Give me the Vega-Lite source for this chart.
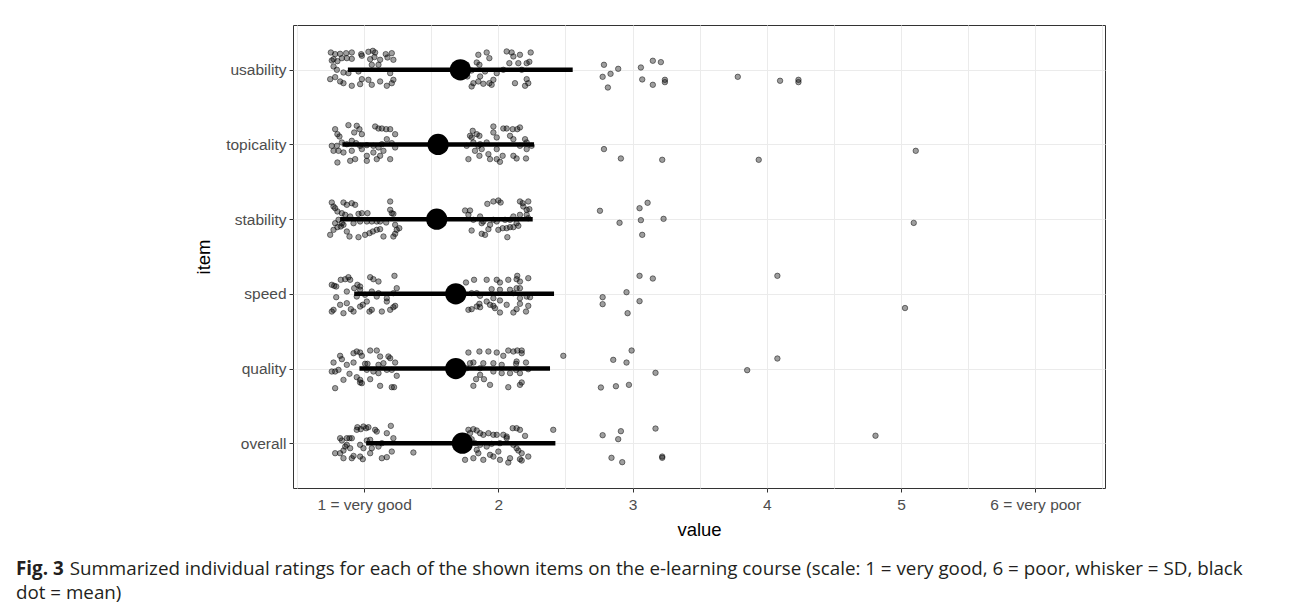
{
"$schema":"https://vega.github.io/schema/vega-lite/v6.json",
"autosize":{"type":"none"},
"padding":{"left":293,"top":25,"right":187,"bottom":121},
"width":812,"height":463,
"background":"#ffffff",
"config":{"view":{"stroke":"#333333","strokeWidth":1},"font":"Liberation Sans"},
"title":{"text":"Fig. 3","subtitle":["\u200b\u00a0\u00a0\u00a0\u00a0\u00a0\u00a0\u00a0\u00a0\u00a0\u00a0\u00a0Summarized individual ratings for each of the shown items on the e-learning course (scale: 1 = very good, 6 = poor, whisker = SD, black","dot = mean)"],"orient":"bottom","anchor":"start","frame":"group","dx":-277,"offset":21,"font":"Open Sans","fontSize":18.8,"fontWeight":"bold","color":"#231f20","subtitleFont":"Open Sans","subtitleFontSize":18.8,"subtitleColor":"#231f20","subtitleLineHeight":24,"subtitlePadding":-18.8},
"datasets":{
"pts":[
{"v":0.752,"y":6.232},{"v":0.784,"y":6.21},{"v":0.821,"y":6.214},{"v":0.866,"y":6.223},{"v":0.908,"y":6.232},{"v":0.978,"y":6.21},{"v":1.032,"y":6.241},{"v":1.065,"y":6.254},{"v":1.082,"y":6.232},{"v":1.161,"y":6.21},{"v":1.206,"y":6.223},{"v":0.759,"y":6.125},{"v":0.772,"y":6.143},{"v":0.801,"y":6.116},{"v":0.834,"y":6.156},{"v":0.871,"y":6.156},{"v":0.908,"y":6.147},{"v":0.983,"y":6.188},{"v":1.045,"y":6.143},{"v":1.077,"y":6.17},{"v":1.119,"y":6.134},{"v":1.174,"y":6.165},{"v":1.218,"y":6.134},{"v":0.797,"y":6.0},{"v":0.846,"y":5.964},{"v":0.883,"y":5.955},{"v":0.958,"y":5.978},{"v":1.057,"y":6.067},{"v":1.107,"y":6.067},{"v":1.194,"y":5.955},{"v":0.747,"y":5.875},{"v":0.784,"y":5.902},{"v":0.821,"y":5.844},{"v":0.846,"y":5.821},{"v":0.908,"y":5.786},{"v":0.97,"y":5.808},{"v":0.983,"y":5.875},{"v":1.032,"y":5.866},{"v":1.057,"y":5.799},{"v":1.119,"y":5.844},{"v":1.169,"y":5.786},{"v":1.206,"y":5.821},{"v":1.218,"y":5.866},{"v":0.772,"y":6.045},
{"v":1.851,"y":6.201},{"v":1.913,"y":6.232},{"v":1.933,"y":6.156},{"v":1.839,"y":6.098},{"v":1.859,"y":6.067},{"v":1.988,"y":5.955},{"v":2.062,"y":6.246},{"v":2.099,"y":6.232},{"v":2.161,"y":6.201},{"v":2.241,"y":6.232},{"v":2.082,"y":6.089},{"v":2.149,"y":6.089},{"v":2.211,"y":6.089},{"v":2.231,"y":6.107},{"v":1.801,"y":5.777},{"v":1.814,"y":5.821},{"v":1.851,"y":5.844},{"v":1.888,"y":5.813},{"v":1.933,"y":5.821},{"v":1.95,"y":5.799},{"v":1.864,"y":5.911},{"v":2.124,"y":5.821},{"v":2.199,"y":5.786},{"v":2.211,"y":5.875},{"v":2.223,"y":5.821},{"v":1.963,"y":5.866},{"v":2.037,"y":6.0},{"v":1.801,"y":5.991},{"v":1.769,"y":5.911},{"v":2.112,"y":6.179},{"v":2.174,"y":6.0},{"v":1.901,"y":5.978},{"v":1.764,"y":6.067},
{"v":2.787,"y":6.067},{"v":2.893,"y":6.013},{"v":2.777,"y":5.906},{"v":2.836,"y":5.946},{"v":2.816,"y":5.763},{"v":3.062,"y":6.031},{"v":3.151,"y":6.121},{"v":3.211,"y":6.103},{"v":3.072,"y":5.871},{"v":3.151,"y":5.799},{"v":3.241,"y":5.866},{"v":3.241,"y":5.835},{"v":3.784,"y":5.906},{"v":4.099,"y":5.853},{"v":4.236,"y":5.866},{"v":4.236,"y":5.835},
{"v":0.784,"y":5.205},{"v":0.801,"y":5.138},{"v":0.816,"y":5.107},{"v":0.883,"y":5.259},{"v":0.945,"y":5.25},{"v":0.965,"y":5.205},{"v":0.983,"y":5.138},{"v":0.926,"y":5.161},{"v":1.082,"y":5.241},{"v":1.107,"y":5.214},{"v":1.132,"y":5.214},{"v":1.164,"y":5.205},{"v":1.194,"y":5.205},{"v":1.231,"y":5.138},{"v":0.797,"y":4.982},{"v":0.834,"y":5.027},{"v":0.871,"y":5.004},{"v":0.908,"y":5.049},{"v":0.94,"y":5.018},{"v":0.97,"y":4.982},{"v":1.02,"y":4.991},{"v":1.069,"y":4.982},{"v":1.107,"y":4.96},{"v":1.132,"y":5.004},{"v":1.169,"y":5.071},{"v":1.206,"y":5.018},{"v":0.772,"y":4.915},{"v":0.809,"y":4.915},{"v":0.846,"y":4.893},{"v":0.896,"y":4.781},{"v":0.933,"y":4.804},{"v":1.02,"y":4.848},{"v":1.02,"y":4.781},{"v":1.094,"y":4.804},{"v":1.119,"y":4.848},{"v":1.194,"y":4.804},{"v":0.801,"y":4.759},{"v":0.983,"y":4.938},{"v":1.069,"y":4.893},{"v":1.144,"y":4.915},{"v":0.908,"y":4.915},{"v":1.231,"y":4.96},{"v":0.759,"y":4.982},
{"v":1.809,"y":5.183},{"v":1.839,"y":5.138},{"v":1.859,"y":5.116},{"v":1.963,"y":5.241},{"v":2.037,"y":5.214},{"v":2.062,"y":5.214},{"v":2.107,"y":5.205},{"v":2.141,"y":5.205},{"v":2.161,"y":5.228},{"v":1.864,"y":5.004},{"v":1.876,"y":4.938},{"v":1.988,"y":5.094},{"v":1.814,"y":5.027},{"v":1.801,"y":5.094},{"v":1.789,"y":5.116},{"v":1.988,"y":4.938},{"v":2.087,"y":5.116},{"v":2.112,"y":5.071},{"v":2.161,"y":4.982},{"v":2.211,"y":5.027},{"v":2.248,"y":4.982},{"v":2.211,"y":4.938},{"v":1.777,"y":4.804},{"v":1.859,"y":4.848},{"v":1.926,"y":4.871},{"v":1.988,"y":4.804},{"v":2.012,"y":4.768},{"v":2.032,"y":4.848},{"v":2.112,"y":4.848},{"v":2.136,"y":4.813},{"v":2.206,"y":4.813},{"v":1.913,"y":5.027},{"v":1.851,"y":4.982},{"v":1.963,"y":5.161},{"v":2.199,"y":5.071},{"v":1.826,"y":4.915},{"v":1.938,"y":4.804},{"v":1.764,"y":4.982},
{"v":2.787,"y":4.938},{"v":2.913,"y":4.813},{"v":3.221,"y":4.795},{"v":3.94,"y":4.795},{"v":5.11,"y":4.915},
{"v":0.759,"y":4.223},{"v":0.772,"y":4.17},{"v":0.784,"y":4.147},{"v":0.801,"y":4.103},{"v":0.846,"y":4.223},{"v":0.871,"y":4.192},{"v":0.908,"y":4.214},{"v":0.933,"y":4.192},{"v":0.834,"y":4.08},{"v":0.859,"y":4.058},{"v":0.896,"y":4.036},{"v":0.958,"y":4.071},{"v":0.983,"y":4.08},{"v":1.119,"y":3.969},{"v":1.164,"y":3.955},{"v":1.194,"y":4.237},{"v":1.206,"y":4.08},{"v":1.218,"y":4.071},{"v":0.747,"y":3.79},{"v":0.772,"y":3.857},{"v":0.801,"y":3.893},{"v":0.826,"y":3.902},{"v":0.846,"y":3.924},{"v":0.871,"y":3.835},{"v":0.891,"y":3.768},{"v":0.958,"y":3.759},{"v":1.007,"y":3.79},{"v":1.04,"y":3.813},{"v":1.065,"y":3.835},{"v":1.094,"y":3.857},{"v":1.119,"y":3.866},{"v":1.144,"y":3.768},{"v":1.218,"y":3.768},{"v":1.231,"y":3.804},{"v":1.243,"y":3.857},{"v":1.262,"y":3.879},{"v":0.784,"y":3.946},{"v":0.809,"y":3.991},{"v":0.834,"y":3.946},{"v":0.921,"y":3.946},{"v":0.97,"y":3.969},{"v":1.02,"y":3.969},{"v":1.057,"y":3.969},{"v":1.094,"y":3.969},{"v":1.231,"y":3.924},{"v":1.194,"y":4.125},{"v":1.025,"y":4.08},
{"v":1.752,"y":4.116},{"v":1.789,"y":4.116},{"v":1.918,"y":4.205},{"v":1.963,"y":4.237},{"v":2.0,"y":4.25},{"v":2.017,"y":4.223},{"v":2.161,"y":4.237},{"v":2.181,"y":4.214},{"v":2.223,"y":4.237},{"v":2.211,"y":4.125},{"v":2.231,"y":4.134},{"v":2.186,"y":4.17},{"v":1.801,"y":3.848},{"v":1.876,"y":3.804},{"v":1.901,"y":3.79},{"v":1.926,"y":3.866},{"v":2.0,"y":3.857},{"v":2.032,"y":3.879},{"v":2.062,"y":3.879},{"v":2.087,"y":3.893},{"v":2.112,"y":3.893},{"v":2.149,"y":3.911},{"v":2.067,"y":3.759},{"v":1.876,"y":3.946},{"v":1.888,"y":3.969},{"v":1.963,"y":3.991},{"v":1.988,"y":3.969},{"v":2.05,"y":3.991},{"v":2.087,"y":3.991},{"v":2.112,"y":4.036},{"v":2.161,"y":4.058},{"v":2.211,"y":4.058},{"v":2.223,"y":4.013},{"v":1.777,"y":4.058},{"v":1.864,"y":4.036},{"v":1.814,"y":3.991},{"v":1.938,"y":3.924},{"v":2.136,"y":3.946},
{"v":2.757,"y":4.112},{"v":2.903,"y":3.951},{"v":3.052,"y":4.147},{"v":3.112,"y":4.219},{"v":3.062,"y":3.987},{"v":3.231,"y":4.004},{"v":3.072,"y":3.79},{"v":5.095,"y":3.95},
{"v":0.759,"y":3.121},{"v":0.777,"y":3.107},{"v":0.792,"y":3.098},{"v":0.826,"y":3.188},{"v":0.859,"y":3.196},{"v":0.883,"y":3.223},{"v":0.896,"y":3.188},{"v":0.926,"y":3.076},{"v":0.95,"y":3.121},{"v":0.97,"y":3.098},{"v":1.045,"y":3.223},{"v":1.069,"y":3.196},{"v":1.107,"y":3.165},{"v":1.226,"y":3.241},{"v":0.792,"y":2.955},{"v":0.871,"y":3.031},{"v":0.97,"y":3.054},{"v":1.007,"y":2.987},{"v":1.057,"y":3.031},{"v":1.107,"y":3.009},{"v":1.169,"y":2.942},{"v":1.218,"y":3.009},{"v":1.243,"y":3.076},{"v":0.759,"y":2.763},{"v":0.772,"y":2.786},{"v":0.846,"y":2.741},{"v":0.901,"y":2.795},{"v":0.921,"y":2.763},{"v":0.97,"y":2.83},{"v":0.99,"y":2.853},{"v":1.04,"y":2.763},{"v":1.057,"y":2.786},{"v":1.132,"y":2.763},{"v":1.194,"y":2.786},{"v":1.218,"y":2.821},{"v":1.231,"y":2.839},{"v":0.871,"y":2.875},{"v":0.821,"y":2.853},{"v":1.02,"y":2.897},{"v":1.169,"y":2.897},{"v":1.094,"y":2.964},{"v":0.945,"y":2.964},
{"v":1.759,"y":3.152},{"v":1.819,"y":3.188},{"v":1.913,"y":3.188},{"v":1.988,"y":3.188},{"v":2.012,"y":3.152},{"v":2.074,"y":3.188},{"v":2.136,"y":3.196},{"v":2.161,"y":3.165},{"v":2.223,"y":3.21},{"v":2.141,"y":3.241},{"v":1.95,"y":3.063},{"v":2.012,"y":3.054},{"v":2.087,"y":3.054},{"v":2.136,"y":3.076},{"v":2.161,"y":3.076},{"v":1.777,"y":2.786},{"v":1.801,"y":2.795},{"v":1.839,"y":2.83},{"v":1.859,"y":2.866},{"v":1.864,"y":2.821},{"v":1.938,"y":2.853},{"v":1.963,"y":2.839},{"v":1.975,"y":2.808},{"v":2.012,"y":2.75},{"v":2.062,"y":2.853},{"v":2.112,"y":2.75},{"v":2.136,"y":2.795},{"v":2.161,"y":2.866},{"v":2.206,"y":2.763},{"v":2.223,"y":2.839},{"v":2.161,"y":2.942},{"v":2.211,"y":2.964},{"v":2.236,"y":2.955},{"v":2.112,"y":3.009},{"v":1.839,"y":3.009},{"v":1.864,"y":2.973},{"v":1.963,"y":2.942},{"v":2.012,"y":2.911},{"v":1.913,"y":2.897},{"v":1.801,"y":3.009},
{"v":3.052,"y":3.241},{"v":3.151,"y":3.205},{"v":2.955,"y":3.022},{"v":2.777,"y":2.955},{"v":2.777,"y":2.862},{"v":3.052,"y":2.902},{"v":2.963,"y":2.741},{"v":4.079,"y":3.241},{"v":5.03,"y":2.81},
{"v":0.772,"y":2.08},{"v":0.821,"y":2.17},{"v":0.834,"y":2.125},{"v":0.921,"y":2.205},{"v":0.945,"y":2.228},{"v":0.97,"y":2.214},{"v":0.983,"y":2.17},{"v":1.007,"y":2.063},{"v":1.025,"y":2.063},{"v":1.045,"y":2.241},{"v":1.094,"y":2.241},{"v":1.119,"y":2.161},{"v":1.181,"y":2.161},{"v":1.194,"y":2.138},{"v":1.231,"y":2.08},{"v":0.759,"y":1.96},{"v":0.784,"y":1.96},{"v":0.809,"y":1.982},{"v":0.891,"y":1.929},{"v":0.97,"y":1.848},{"v":0.983,"y":1.804},{"v":1.045,"y":1.857},{"v":1.02,"y":1.982},{"v":1.107,"y":2.049},{"v":1.107,"y":1.938},{"v":1.169,"y":1.982},{"v":1.243,"y":1.902},{"v":1.206,"y":1.982},{"v":0.784,"y":1.737},{"v":0.97,"y":1.813},{"v":1.119,"y":1.768},{"v":1.206,"y":1.75},{"v":1.223,"y":1.75},{"v":0.871,"y":2.049},{"v":0.921,"y":2.08},{"v":1.069,"y":1.96},{"v":1.144,"y":2.071},{"v":0.846,"y":1.848},{"v":0.945,"y":1.884},
{"v":1.777,"y":2.214},{"v":1.859,"y":2.228},{"v":1.926,"y":2.228},{"v":1.988,"y":2.214},{"v":2.037,"y":2.17},{"v":2.074,"y":2.241},{"v":2.112,"y":2.228},{"v":2.141,"y":2.241},{"v":2.174,"y":2.241},{"v":2.174,"y":2.205},{"v":1.789,"y":2.071},{"v":1.814,"y":2.08},{"v":1.888,"y":2.071},{"v":1.963,"y":2.071},{"v":2.025,"y":2.049},{"v":2.136,"y":2.094},{"v":2.132,"y":2.063},{"v":2.206,"y":2.08},{"v":1.764,"y":2.004},{"v":1.864,"y":2.004},{"v":2.025,"y":1.938},{"v":2.087,"y":1.938},{"v":2.161,"y":1.938},{"v":2.132,"y":1.982},{"v":1.834,"y":1.857},{"v":1.893,"y":1.857},{"v":1.938,"y":1.781},{"v":1.814,"y":1.768},{"v":2.074,"y":1.75},{"v":2.161,"y":1.781},{"v":2.174,"y":1.813},{"v":1.864,"y":1.915},{"v":1.963,"y":1.96},{"v":2.223,"y":1.991},{"v":2.484,"y":2.17},
{"v":2.856,"y":2.116},{"v":2.955,"y":2.08},{"v":2.993,"y":2.241},{"v":3.171,"y":1.942},{"v":2.764,"y":1.746},{"v":2.876,"y":1.763},{"v":2.973,"y":1.781},{"v":3.854,"y":1.978},{"v":4.079,"y":2.134},
{"v":0.784,"y":0.866},{"v":0.821,"y":0.866},{"v":0.846,"y":0.902},{"v":0.859,"y":0.955},{"v":0.871,"y":1.067},{"v":0.891,"y":1.067},{"v":0.908,"y":1.067},{"v":0.908,"y":0.799},{"v":0.945,"y":1.179},{"v":0.95,"y":1.214},{"v":0.975,"y":1.188},{"v":0.995,"y":1.223},{"v":1.015,"y":1.201},{"v":1.032,"y":1.214},{"v":1.082,"y":1.179},{"v":1.094,"y":1.156},{"v":1.169,"y":1.134},{"v":1.199,"y":1.232},{"v":1.218,"y":1.067},{"v":0.871,"y":0.978},{"v":0.896,"y":0.933},{"v":0.97,"y":0.978},{"v":0.995,"y":0.933},{"v":1.045,"y":1.045},{"v":1.057,"y":0.933},{"v":1.107,"y":0.955},{"v":1.132,"y":1.0},{"v":0.821,"y":1.067},{"v":0.834,"y":1.036},{"v":0.846,"y":0.799},{"v":0.921,"y":0.83},{"v":0.97,"y":0.821},{"v":0.99,"y":0.786},{"v":1.045,"y":0.866},{"v":1.132,"y":0.799},{"v":1.169,"y":0.813},{"v":1.367,"y":0.875},{"v":1.206,"y":0.888},{"v":1.02,"y":1.036},
{"v":1.777,"y":1.179},{"v":1.789,"y":1.134},{"v":1.814,"y":1.188},{"v":1.839,"y":1.17},{"v":1.864,"y":1.134},{"v":1.888,"y":1.112},{"v":1.926,"y":1.134},{"v":1.963,"y":1.112},{"v":1.988,"y":1.112},{"v":2.037,"y":1.112},{"v":2.062,"y":1.089},{"v":1.764,"y":1.045},{"v":1.801,"y":1.054},{"v":1.826,"y":1.0},{"v":1.864,"y":0.978},{"v":1.913,"y":0.955},{"v":1.95,"y":0.991},{"v":2.012,"y":1.0},{"v":2.062,"y":1.067},{"v":2.107,"y":1.201},{"v":2.136,"y":1.201},{"v":2.161,"y":1.179},{"v":2.199,"y":1.098},{"v":2.136,"y":0.933},{"v":2.149,"y":0.902},{"v":2.174,"y":0.866},{"v":1.752,"y":0.777},{"v":1.814,"y":0.799},{"v":1.851,"y":0.866},{"v":1.888,"y":0.777},{"v":1.938,"y":0.844},{"v":2.0,"y":0.888},{"v":2.012,"y":0.777},{"v":2.087,"y":0.799},{"v":2.074,"y":0.741},{"v":2.161,"y":0.786},{"v":2.174,"y":0.768},{"v":2.223,"y":0.821},{"v":2.409,"y":1.179},{"v":2.112,"y":0.978},{"v":1.963,"y":0.821},{"v":1.839,"y":0.911},
{"v":2.777,"y":1.107},{"v":2.913,"y":1.161},{"v":2.893,"y":1.054},{"v":3.171,"y":1.196},{"v":2.843,"y":0.804},{"v":2.923,"y":0.746},{"v":3.221,"y":0.821},{"v":3.221,"y":0.804},{"v":4.81,"y":1.1}
],
"sum":[
{"item":"usability","pos":6,"mean":1.717,"lo":0.879,"hi":2.554},
{"item":"topicality","pos":5,"mean":1.551,"lo":0.838,"hi":2.266},
{"item":"stability","pos":4,"mean":1.541,"lo":0.821,"hi":2.256},
{"item":"speed","pos":3,"mean":1.683,"lo":0.926,"hi":2.415},
{"item":"quality","pos":2,"mean":1.683,"lo":0.965,"hi":2.385},
{"item":"overall","pos":1,"mean":1.732,"lo":1.015,"hi":2.425}
]},
"layer":[
{"data":{"name":"pts"},
 "mark":{"type":"circle","size":30,"fill":"#000000","fillOpacity":0.38,"stroke":"#000000","strokeOpacity":0.6,"strokeWidth":0.8},
 "encoding":{
  "x":{"field":"v","type":"quantitative","title":"value","scale":{"domain":[0.47,6.52],"nice":false,"zero":false},
   "axis":{"values":[0.5,1,1.5,2,2.5,3,3.5,4,4.5,5,5.5,6,6.5],"labelExpr":"datum.value==1?'1 = very good':datum.value==6?'6 = very poor':(datum.value%1==0?''+datum.value:'')","labelOverlap":false,"labelFlush":false,"grid":true,"gridColor":"#ebebeb","gridWidth":1,"domain":false,"tickColor":{"condition":{"test":"datum.value%1!=0","value":"transparent"},"value":"#333333"},"tickSize":4,"tickWidth":1,"labelFont":"Liberation Sans","labelFontSize":15.5,"labelColor":"#4d4d4d","labelPadding":5,"titleFont":"Liberation Sans","titleFontSize":18.5,"titleFontWeight":"normal","titleColor":"#000000","titlePadding":8}},
  "y":{"field":"y","type":"quantitative","title":"item","scale":{"domain":[0.4,6.6],"nice":false,"zero":false},
   "axis":{"values":[1,2,3,4,5,6],"labelExpr":"['','overall','quality','speed','stability','topicality','usability'][datum.value]","grid":true,"gridColor":"#ebebeb","gridWidth":1,"domain":false,"tickColor":"#333333","tickSize":4,"tickWidth":1,"labelFont":"Liberation Sans","labelFontSize":15.5,"labelColor":"#4d4d4d","labelPadding":3,"titleFont":"Liberation Sans","titleFontSize":18.5,"titleFontWeight":"normal","titleColor":"#000000","titlePadding":12}}
 }},
{"data":{"name":"sum"},
 "mark":{"type":"rule","color":"#000000","strokeWidth":4.5},
 "encoding":{"x":{"field":"lo","type":"quantitative","title":"value"},"x2":{"field":"hi"},"y":{"field":"pos","type":"quantitative","title":"item"}}},
{"data":{"name":"sum"},
 "mark":{"type":"circle","size":452,"color":"#000000","opacity":1},
 "encoding":{"x":{"field":"mean","type":"quantitative","title":"value"},"y":{"field":"pos","type":"quantitative","title":"item"}}}
]
}
